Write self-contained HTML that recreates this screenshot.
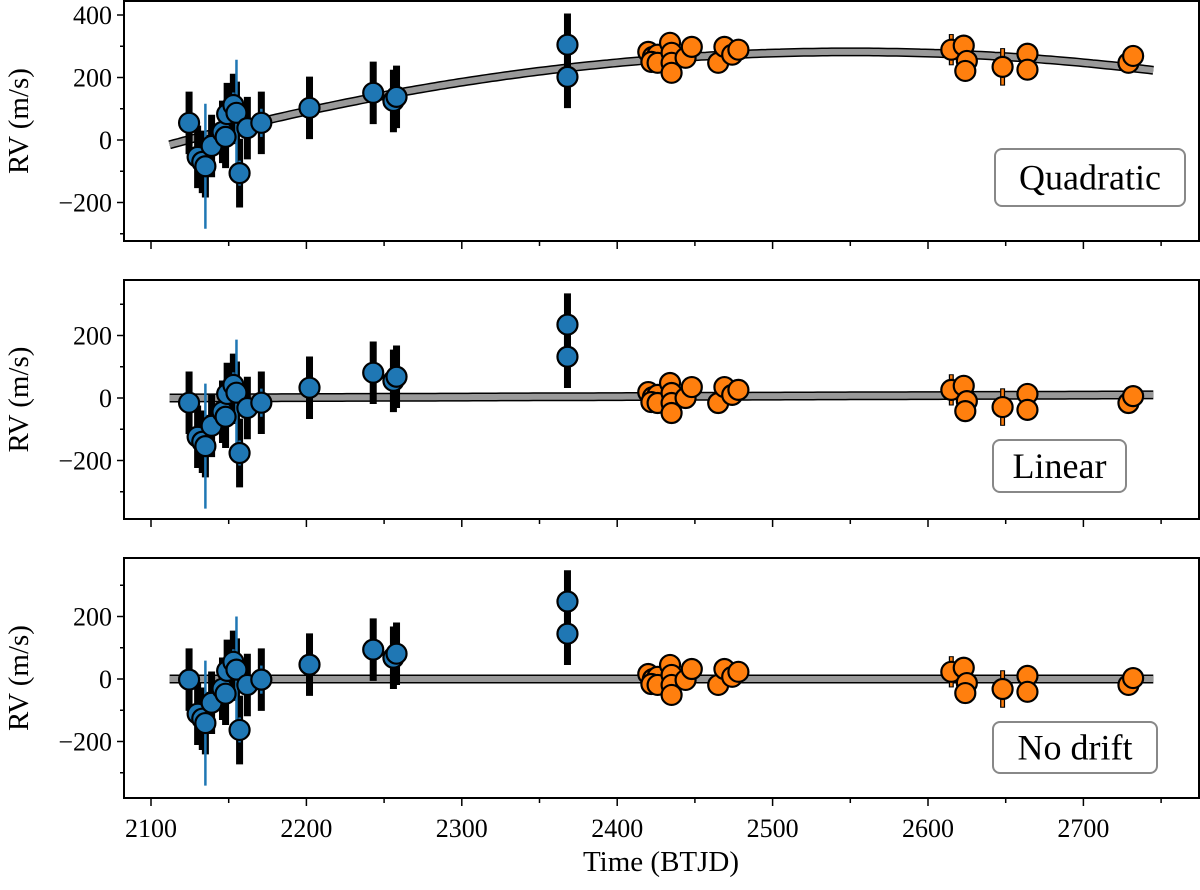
<!DOCTYPE html>
<html><head><meta charset="utf-8"><style>
body{margin:0;background:#fff}
svg text{font-family:"Liberation Serif","DejaVu Serif",serif;fill:#000}
</style></head><body>
<svg id="chart" width="1200" height="885" viewBox="0 0 1200 885" xmlns="http://www.w3.org/2000/svg"></svg>
<script>
const blueT=[2124.5,2130,2133,2135,2139,2146,2148,2149,2153,2155,2157,2162,2171,2202,2243,2256,2258,2368,2368];
const blueV=[55,-54,-70,-84,-19,26,10,83,112,87,-106,38,55,103,151,125,138,305,202];
const blueErrBlack=[100,100,100,100,100,100,100,100,100,100,110,100,100,100,100,100,100,100,100];
const blueErrBlue=[20,30,40,200,30,40,30,40,40,170,40,20,45,20,20,20,30,10,10];
const orangeT=[2420,2423,2426,2422,2426,2434,2435,2435,2435,2444,2448,2465,2469,2474,2478,2615,2623,2625,2624,2648,2664,2664,2729,2732];
const orangeV=[282,266,273,250,247,311,279,247,215,263,298,247,298,273,289,289,302,253,221,234,276,225,247,269];
const orangeErr=[20,20,20,20,20,20,20,20,20,20,20,20,20,20,20,50,20,20,20,60,20,20,20,20];
const modelNames=["Quadratic","Linear","No drift"];
const blueOffset=[0,-70,-57];
const orangeOffset=[0,-263,-266];
const linStart=[0,0,0], linEnd=[0,10,0];
const xTicks=[2100,2200,2300,2400,2500,2600,2700];
const yTicksP1=[-200,0,200,400];
const yTicksP23=[-200,0,200];

const NS="http://www.w3.org/2000/svg";
const svg=document.getElementById('chart');
function mk(tag,attrs,parent){const e=document.createElementNS(NS,tag);for(const k in attrs)e.setAttribute(k,attrs[k]);(parent||svg).appendChild(e);return e;}
const L=124,R=1199;
const panels=[{top:1,bot:241,y0:140},{top:280,bot:519,y0:398},{top:558,bot:798,y0:679}];
const legendBoxes=[[995,149,190,57],[993,440,133,52],[993,722,164,51]];
const sc=0.3125;
function X(t){return 151+(t-2100)*1.554;}
function quad(t){return 282-0.00155*(t-2550)*(t-2550);}

panels.forEach((p,i)=>{
  const g=mk('g',{});
  
  
  const Y=v=>p.y0-v*sc;
  const clip=mk('clipPath',{id:'c'+i},g);
  mk('rect',{x:L,y:p.top,width:R-L,height:p.bot-p.top},clip);
  const inner=mk('g',{'clip-path':'url(#c'+i+')'},g);
  let pts=[];
  for(let t=2112;t<=2745;t+=3){let v=i==0?quad(t):linStart[i]+(linEnd[i]-linStart[i])*(t-2112)/633;pts.push(X(t).toFixed(1)+','+Y(v).toFixed(1));}
  const m1=mk('polyline',{points:pts.join(' '),fill:'none',stroke:'#000','stroke-width':9},inner);
  
  
  const m2=mk('polyline',{points:pts.join(' '),fill:'none',stroke:'#999','stroke-width':6},inner);
  
  
  blueT.forEach((t,j)=>{const v=blueV[j]+blueOffset[i];
    const a=mk('line',{x1:X(t),x2:X(t),y1:Y(v-blueErrBlack[j]),y2:Y(v+blueErrBlack[j]),stroke:'#000','stroke-width':7},inner);
    
    
  });
  blueT.forEach((t,j)=>{const v=blueV[j]+blueOffset[i];
    const b=mk('line',{x1:X(t),x2:X(t),y1:Y(v-blueErrBlue[j]),y2:Y(v+blueErrBlue[j]),stroke:'#1f77b4','stroke-width':2.5},inner);
    
    
  });
  orangeT.forEach((t,j)=>{const v=orangeV[j]+orangeOffset[i];
    const b=mk('line',{x1:X(t),x2:X(t),y1:Y(v-orangeErr[j]),y2:Y(v+orangeErr[j]),stroke:'#000','stroke-width':5},inner);
    
    
    const c=mk('line',{x1:X(t),x2:X(t),y1:Y(v-orangeErr[j])-1,y2:Y(v+orangeErr[j])+1,stroke:'#ff7f0e','stroke-width':2.5},inner);
    
    
  });
  blueT.forEach((t,j)=>{const v=blueV[j]+blueOffset[i];
    const c=mk('circle',{cx:X(t),cy:Y(v),r:10,fill:'#1f77b4',stroke:'#000','stroke-width':2.2},inner);
    
    
  });
  orangeT.forEach((t,j)=>{const v=orangeV[j]+orangeOffset[i];
    const c=mk('circle',{cx:X(t),cy:Y(v),r:10,fill:'#ff7f0e',stroke:'#000','stroke-width':2.2},inner);
    
    
  });
  const fr=mk('rect',{x:L,y:p.top,width:R-L,height:p.bot-p.top,fill:'none',stroke:'#000','stroke-width':2},g);
  
  
  const yt=i==0?yTicksP1:yTicksP23;
  [-300,-100,100,300].forEach(v=>{mk('line',{x1:L,x2:L-4,y1:Y(v),y2:Y(v),stroke:'#000','stroke-width':1.5},g);});
  yt.forEach(v=>{mk('line',{x1:L,x2:L-7,y1:Y(v),y2:Y(v),stroke:'#000','stroke-width':1.5},g);
    const tx=mk('text',{x:L-12,y:Y(v)+9,'text-anchor':'end','font-size':26},g);
    
    
    tx.textContent=v<0?'\u2212'+(-v):String(v);});
  const yl=mk('text',{x:0,y:0,'text-anchor':'middle','font-size':29,transform:'translate(28,'+((p.top+p.bot)/2)+') rotate(-90)'},g);
  
  
  yl.textContent='RV (m/s)';
  for(let t=2100;t<=2750;t+=50){const maj=t%100==0;mk('line',{x1:X(t),x2:X(t),y1:p.bot,y2:p.bot+(maj?8:5),stroke:'#000','stroke-width':1.5},g);}
  if(i==2){xTicks.forEach(t=>{const tx=mk('text',{x:X(t),y:p.bot+39,'text-anchor':'middle','font-size':26},g);
    
    
    tx.textContent=t;});}
  const lb=legendBoxes[i];
  const lg=mk('g',{},g);
  
  
  mk('rect',{x:lb[0],y:lb[1],width:lb[2],height:lb[3],rx:7,fill:'#fff',stroke:'#888','stroke-width':2},lg);
  const lt=mk('text',{x:lb[0]+lb[2]/2,y:lb[1]+lb[3]/2+12,'text-anchor':'middle','font-size':36},lg);
  lt.textContent=modelNames[i];
});
const xl=mk('text',{x:661,y:871,'text-anchor':'middle','font-size':29});


xl.textContent='Time (BTJD)';
</script>
</body></html>
